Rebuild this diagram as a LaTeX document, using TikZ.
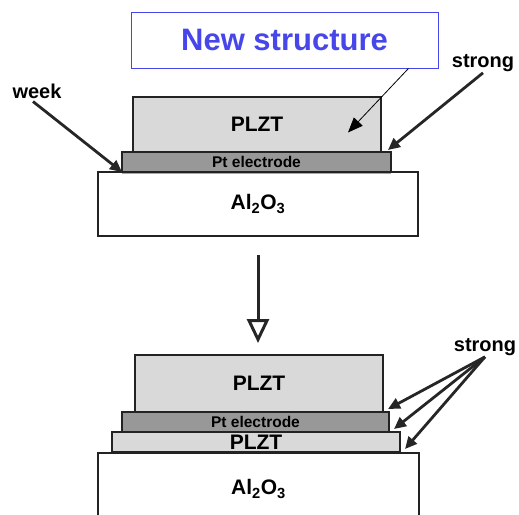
\documentclass[tikz,border=0pt]{standalone}
\usepackage{fontspec}
\setmainfont{Liberation Sans}
\usetikzlibrary{calc,arrows.meta}
\definecolor{plztgray}{RGB}{217,217,217}
\definecolor{ptgray}{RGB}{152,152,152}
\definecolor{edgegray}{RGB}{35,35,35}
\definecolor{titleblue}{RGB}{70,70,235}

\begin{document}
\begin{tikzpicture}[x=1pt,y=-1pt,
    layer/.style={draw=edgegray,line width=2.8pt,inner sep=0pt,outer sep=0pt,font=\bfseries\fontsize{21}{21}\selectfont},
    ptlayer/.style={layer,fill=ptgray,font=\bfseries\fontsize{15.5}{15.5}\selectfont},
    tag/.style={inner sep=1pt,font=\bfseries\fontsize{20}{20}\selectfont},
    bond/.style={line width=2.8pt,draw=black!85,-{Triangle[length=12pt,width=11pt]}}]
  \clip (0,0) rectangle (519,514);
  \node[draw=titleblue,line width=0.9pt,minimum width=307,minimum height=56,text=titleblue,font=\bfseries\fontsize{31}{31}\selectfont] (title) at (284.5,40) {New structure};
  \node[tag] (week) at (37,91) {week};
  \node[tag] (strongA) at (483,63) {strong};
  \node[layer,fill=plztgray,minimum width=248,minimum height=55] (plztA) at (257,124.5) {PLZT};
  \node[ptlayer,minimum width=269,minimum height=20] (ptA) at (256.5,162) {Pt electrode};
  \node[layer,fill=white,minimum width=320,minimum height=64] (alA) at (258,204) {Al\textsubscript{2}O\textsubscript{3}};
  \draw[black!35,line width=1.2pt] ($(ptA.south west)+(0,1.5)$) -- ($(ptA.south east)+(0,1.5)$);
  \draw[bond] ($(week.south)+(-4,2)$) -- (ptA.south west);
  \draw[bond] (strongA.south) -- ($(ptA.north east)+(-3,-2)$);
  \draw[line width=0.8pt,-{Triangle[length=15pt,width=12pt]}] ($(title.south east)+(-30,0)$) -- ($(plztA.center)+(91,8)$);
  \node[layer,fill=plztgray,minimum width=248,minimum height=57] (plztB) at (259,383.5) {PLZT};
  \node[ptlayer,minimum width=267,minimum height=20] (ptB) at (255.5,422) {Pt electrode};
  \node[layer,fill=plztgray,minimum width=288,minimum height=20] (plztC) at (256,442) {PLZT};
  \node[layer,fill=white,minimum width=321,minimum height=72] (alB) at (258.5,489) {Al\textsubscript{2}O\textsubscript{3}};
  \draw[line width=3pt,draw=black!85,-{Triangle[open,length=24pt,width=22pt]},shorten <=19pt,shorten >=12pt] (alA.south) -- (alA.south |- plztB.north);
  \node[tag] (strongB) at (485,347) {strong};
  \foreach \n in {plztB,ptB,plztC}
    \draw[bond] (strongB.south) -- ($(\n.south east)+(5,-3)$);
\end{tikzpicture}
\end{document}
